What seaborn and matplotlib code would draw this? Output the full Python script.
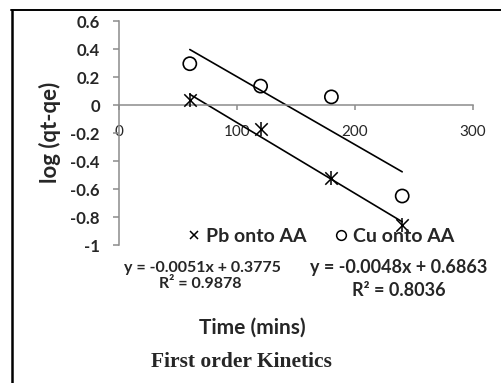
import numpy as np
import pandas as pd
import matplotlib
matplotlib.use("Agg")
import matplotlib.pyplot as plt
from matplotlib.lines import Line2D
import seaborn as sns

# ---- data ----
time = [60, 120, 180, 240]
pb_log = [0.035, -0.17, -0.52, -0.86]
cu_log = [0.295, 0.135, 0.058, -0.65]
x_ticks = [0, 100, 200, 300]
y_ticks = [0.6, 0.4, 0.2, 0, -0.2, -0.4, -0.6, -0.8, -1]
y_ticklabels = ["0.6", "0.4", "0.2", "0", "-0.2", "-0.4", "-0.6", "-0.8", "-1"]
series_names = ["Pb onto AA", "Cu onto AA"]
eq_pb = ["y = -0.0051x + 0.3775", "R² = 0.9878"]
eq_cu = ["y = -0.0048x + 0.6863", "R² = 0.8036"]
x_title = "Time (mins)"
y_title = "log (qt-qe)"
caption = "First order Kinetics"

sns.set_theme(style="white")
plt.rcParams["font.family"] = ["Lato", "DejaVu Sans"]

W, H = 501, 383
fig = plt.figure(figsize=(W / 100, H / 100), dpi=100)
ax = fig.add_axes([119 / W, 1 - 245 / H, (473 - 119) / W, (245 - 21) / H])

df = pd.DataFrame({"time": time, "pb": pb_log, "cu": cu_log})
xr = np.array([min(time), max(time)])
for col in ["pb", "cu"]:
    k, b = np.polyfit(df["time"], df[col], 1)
    sns.lineplot(x=xr, y=k * xr + b, ax=ax, color="black", linewidth=1.2)

sns.scatterplot(data=df, x="time", y="cu", ax=ax, marker="o", s=90,
                facecolors="none", edgecolor="black", linewidth=1.2, zorder=5)
sns.scatterplot(data=df, x="time", y="pb", ax=ax, marker="x", s=80,
                color="black", linewidth=1.1, zorder=5)
sns.scatterplot(data=df, x="time", y="pb", ax=ax, marker="|", s=100,
                color="black", linewidth=1.1, zorder=5)

ax.set_xlim(0, 300)
ax.set_ylim(-1, 0.6)
ax.set_xticks(x_ticks)
ax.set_xticklabels([str(v) for v in x_ticks], fontsize=13.5)
ax.set_yticks(y_ticks)
ax.set_yticklabels(y_ticklabels, fontsize=12, fontweight="bold")
ax.set_xlabel("")
ax.set_ylabel("")

gray = "#8c8c8c"
for s in ["top", "right"]:
    ax.spines[s].set_visible(False)
ax.spines["bottom"].set_position(("data", 0))
for s in ["left", "bottom"]:
    ax.spines[s].set_color(gray)
    ax.spines[s].set_linewidth(1.1)
ax.tick_params(axis="y", direction="out", length=4.3, width=1.1, color=gray,
               left=True, pad=9.5)
ax.tick_params(axis="x", direction="out", length=3.6, width=1.1, color=gray,
               bottom=True, pad=11)
ax.patch.set_alpha(0)

def fx(px):
    return px / W

def fy(py):
    return 1 - py / H

fig.text(fx(50), fy(132), y_title, rotation=90, ha="center", va="center",
         fontsize=16, fontweight="bold")

handles = [
    Line2D([], [], linestyle="", marker="x", color="black", markersize=6,
           markeredgewidth=1.1),
    Line2D([], [], linestyle="", marker="o", markerfacecolor="none",
           markeredgecolor="black", markersize=7, markeredgewidth=1.1),
]
fig.legend(handles, series_names, loc="center", ncol=2, frameon=False,
           bbox_to_anchor=(fx(321), fy(236)), handlelength=0.6,
           handletextpad=0.3, columnspacing=1.5,
           prop={"size": 14, "weight": "bold"})

fig.text(fx(202), fy(268), eq_pb[0], ha="center", va="center", fontsize=11.5,
         fontweight="bold")
fig.text(fx(200), fy(284), eq_pb[1], ha="center", va="center", fontsize=11.5,
         fontweight="bold")
fig.text(fx(399), fy(268), eq_cu[0], ha="center", va="center", fontsize=13,
         fontweight="bold")
fig.text(fx(399), fy(290), eq_cu[1], ha="center", va="center", fontsize=13,
         fontweight="bold")
fig.text(fx(252), fy(328), x_title, ha="center", va="center", fontsize=15,
         fontweight="bold")
fig.text(fx(241), fy(362), caption, ha="center", va="center", fontsize=15.5,
         fontweight="bold", family=["Liberation Serif", "DejaVu Serif"])

# outer frame lines (left and top)
fig.add_artist(Line2D([fx(11.5), fx(11.5)], [fy(10), 0], color="black",
                      linewidth=1.8, transform=fig.transFigure))
fig.add_artist(Line2D([fx(11), 1], [fy(10), fy(10)], color="black",
                      linewidth=1.4, transform=fig.transFigure))

fig.savefig("out.png", dpi=100)
